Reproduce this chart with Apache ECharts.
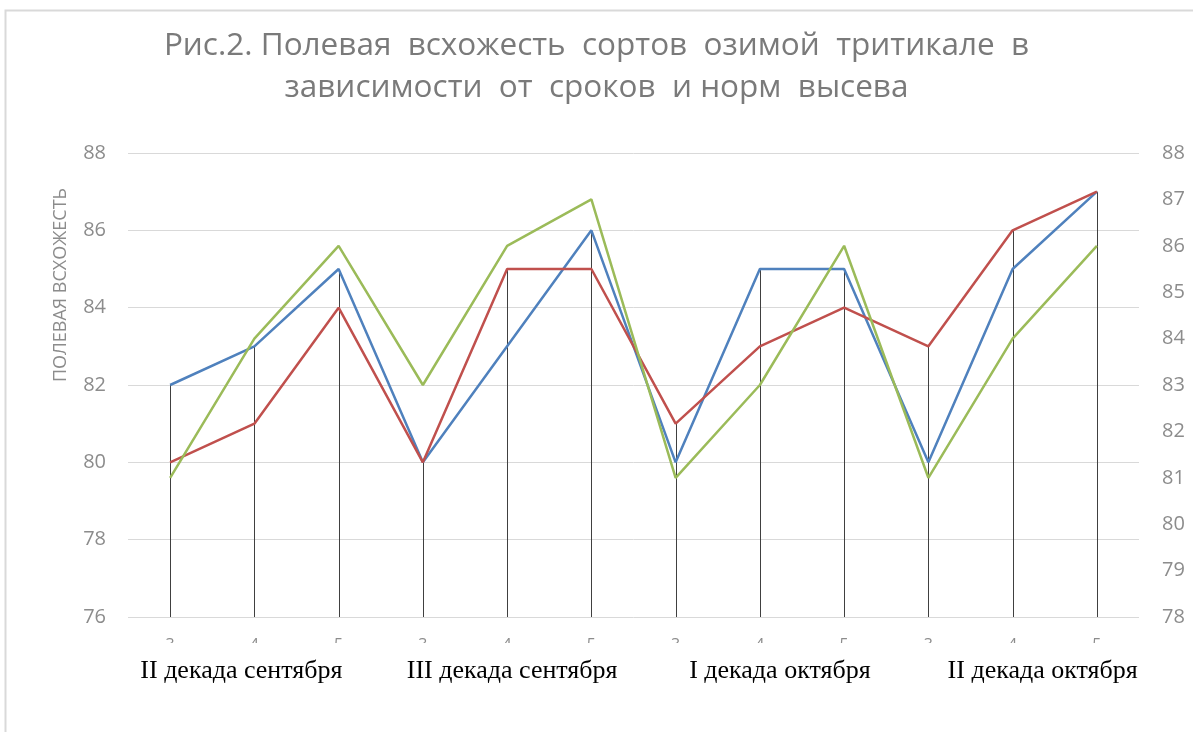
<!DOCTYPE html>
<html>
<head>
<meta charset="utf-8">
<style>
  html, body { margin: 0; padding: 0; background: #ffffff; }
  #chart { width: 1193px; height: 732px; }
</style>
<script src="https://cdn.jsdelivr.net/npm/echarts@6/dist/echarts.min.js"></script>
</head>
<body>
<div id="chart"></div>
<script>
// Seeding rates within each sowing period
const rates = ['3', '4', '5', '3', '4', '5', '3', '4', '5', '3', '4', '5'];
// Sowing periods
const periods = ['II декада сентября', 'III декада сентября', 'I декада октября', 'II декада октября'];
// Field germination, % (blue and red on the left axis, green on the right axis)
const seriesBlue = [82, 83, 85, 80, 83, 86, 80, 85, 85, 80, 85, 87];
const seriesRed = [80, 81, 84, 80, 85, 85, 81, 83, 84, 83, 86, 87];
const seriesGreen = [81, 84, 86, 83, 86, 87, 81, 83, 86, 81, 84, 86];

// Drop lines go from the higher of the two left-axis series down to the axis floor
const dropTops = seriesBlue.map((v, i) => Math.max(v, seriesRed[i]));

const leftMin = 76, leftMax = 88, leftStep = 2;
const rightMin = 78, rightMax = 88, rightStep = 1;

// Horizontal nudges for the period captions (text boxes sit slightly off-centre)
const periodShift = [-13, 5, 20, 30];

const chart = echarts.init(document.getElementById('chart'), null, { renderer: 'canvas' });

const axisGrey = '#8c8c8c';

chart.setOption({
  backgroundColor: '#ffffff',
  animation: false,
  title: {
    text: 'Рис.2. Полевая  всхожесть  сортов  озимой  тритикале  в\nзависимости  от  сроков  и норм  высева',
    left: 'center',
    top: 20,
    textStyle: {
      fontFamily: 'Open Sans',
      fontWeight: 'normal',
      fontSize: 31.5,
      color: '#7a7a7a',
      lineHeight: 42
    }
  },
  graphic: [{
    type: 'rect',
    shape: { x: 5.5, y: 10.5, width: 1300, height: 800 },
    style: { fill: 'none', stroke: '#d9d9d9', lineWidth: 2 },
    silent: true,
    z: -10
  }],
  grid: { left: 128, right: 54, top: 153, bottom: 115, containLabel: false },
  xAxis: [{
    type: 'category',
    data: rates,
    boundaryGap: true,
    axisLine: { show: false },
    axisTick: { show: false },
    axisLabel: {
      interval: 0,
      color: axisGrey,
      fontFamily: 'Open Sans',
      fontSize: 16,
      margin: 20
    }
  }, {
    type: 'category',
    position: 'bottom',
    data: periods.map((p, i) => ({
      value: p,
      textStyle: {
        padding: [15, 10 - Math.min(periodShift[i], 0) * 2, 8, 10 + Math.max(periodShift[i], 0) * 2]
      }
    })),
    z: 5,
    axisLine: { show: false },
    axisTick: { show: false },
    axisLabel: {
      interval: 0,
      hideOverlap: false,
      color: '#000000',
      fontFamily: 'Liberation Serif',
      fontSize: 26,
      margin: 26,
      backgroundColor: '#ffffff'
    }
  }],
  yAxis: [{
    type: 'value',
    min: leftMin,
    max: leftMax,
    interval: leftStep,
    position: 'left',
    name: 'ПОЛЕВАЯ ВСХОЖЕСТЬ',
    nameLocation: 'middle',
    nameRotate: 90,
    nameGap: 58,
    nameTextStyle: {
      color: axisGrey,
      fontFamily: 'Open Sans',
      fontSize: 18,
      padding: [0, 0, 0, 200]
    },
    axisLine: { show: false },
    axisTick: { show: false },
    axisLabel: { color: axisGrey, fontFamily: 'Open Sans', fontSize: 20, margin: 22 },
    splitLine: { show: true, lineStyle: { color: '#d9d9d9', width: 1 } }
  }, {
    type: 'value',
    min: rightMin,
    max: rightMax,
    interval: rightStep,
    position: 'right',
    axisLine: { show: false },
    axisTick: { show: false },
    axisLabel: { color: axisGrey, fontFamily: 'Open Sans', fontSize: 20, margin: 23 },
    splitLine: { show: false }
  }],
  series: [{
    name: 'drop',
    type: 'custom',
    xAxisIndex: 0,
    yAxisIndex: 0,
    z: 1,
    data: dropTops.map((v, i) => [i, v]),
    renderItem: function (params, api) {
      const top = api.coord([api.value(0), api.value(1)]);
      const bottom = api.coord([api.value(0), leftMin]);
      const x = Math.round(top[0]) + 0.5;
      return {
        type: 'line',
        shape: { x1: x, y1: top[1], x2: x, y2: bottom[1] },
        style: { stroke: '#404040', lineWidth: 1 }
      };
    },
    silent: true
  }, {
    name: 'blue',
    type: 'line',
    yAxisIndex: 0,
    data: seriesBlue,
    showSymbol: false,
    z: 3,
    lineStyle: { color: '#4f81bd', width: 2.5 }
  }, {
    name: 'red',
    type: 'line',
    yAxisIndex: 0,
    data: seriesRed,
    showSymbol: false,
    z: 3,
    lineStyle: { color: '#c0504d', width: 2.5 }
  }, {
    name: 'green',
    type: 'line',
    yAxisIndex: 1,
    data: seriesGreen,
    showSymbol: false,
    z: 3,
    lineStyle: { color: '#9bbb59', width: 2.5 }
  }]
});
</script>
</body>
</html>
